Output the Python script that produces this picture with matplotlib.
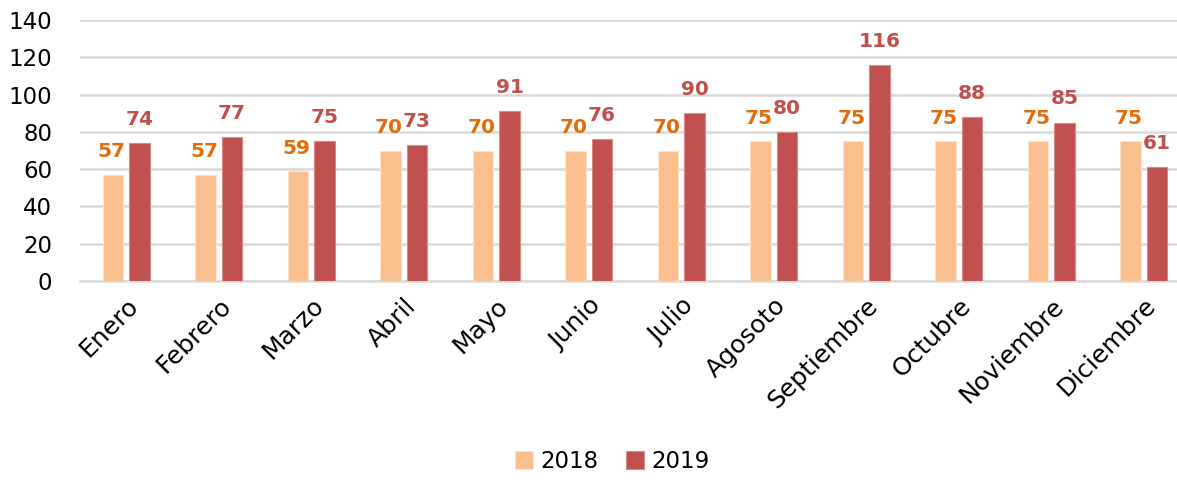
import matplotlib
matplotlib.use("Agg")
import matplotlib.pyplot as plt
import numpy as np

months = ["Enero", "Febrero", "Marzo", "Abril", "Mayo", "Junio", "Julio",
          "Agosoto", "Septiembre", "Octubre", "Noviembre", "Diciembre"]
vals_2018 = [57, 57, 59, 70, 70, 70, 70, 75, 75, 75, 75, 75]
vals_2019 = [74, 77, 75, 73, 91, 76, 90, 80, 116, 88, 85, 61]
series_names = ["2018", "2019"]
yticks = [0, 20, 40, 60, 80, 100, 120, 140]

plt.rcParams['font.family'] = ['DejaVu Sans']

W, H = 1177, 484
fig = plt.figure(figsize=(W / 100, H / 100), dpi=100)
left, right = 80 / W, 1.0
bottom, top = (H - 281) / H, (H - 20) / H
ax = fig.add_axes([left, bottom, right - left, top - bottom])

x = np.arange(len(months))
bw = 0.22
off = 0.143
c18, c19 = "#F9BF8F", "#C0504D"
lab18, lab19 = "#E36C0A", "#C0504D"

b1 = ax.bar(x - off, vals_2018, bw, color=c18, edgecolor="#FDE3CE", linewidth=0.8,
            label=series_names[0], zorder=3)
b2 = ax.bar(x + off, vals_2019, bw, color=c19, edgecolor="#D98A88", linewidth=0.8,
            label=series_names[1], zorder=3)

for xi, v in zip(x, vals_2018):
    ax.annotate(str(v), (xi - off, v), xytext=(-1, 16.5), textcoords="offset points",
                ha="center", va="center", fontsize=14.5, fontweight="bold", color=lab18)
for xi, v in zip(x, vals_2019):
    ax.annotate(str(v), (xi + off, v), xytext=(0, 17), textcoords="offset points",
                ha="center", va="center", fontsize=14.5, fontweight="bold", color=lab19)

ax.set_xlim(-0.5, 11.36)
ax.set_ylim(0, 140)
ax.set_yticks(yticks)
ax.set_yticklabels([str(t) for t in yticks])
ax.yaxis.grid(True, color="#D9D9D9", linewidth=1.8, zorder=0)
ax.set_axisbelow(True)
for s in ["top", "right", "left"]:
    ax.spines[s].set_visible(False)
ax.spines["bottom"].set_color("#D9D9D9")
ax.spines["bottom"].set_linewidth(1.8)
ax.tick_params(axis="y", length=0, pad=20, labelsize=16.5, labelcolor="#000000")
ax.tick_params(axis="x", length=0, pad=9, labelsize=18, labelcolor="#000000")
ax.set_xticks(x)
ax.set_xticklabels(months, rotation=45, ha="right", rotation_mode="anchor")

fig.legend(handles=[b1, b2], labels=series_names, loc="lower center",
           bbox_to_anchor=(0.52, -0.02), ncol=2, frameon=False, fontsize=16.5,
           handlelength=0.8, handleheight=0.8, handletextpad=0.3, columnspacing=1.2)

fig.savefig("out.png", dpi=100, facecolor="white")
